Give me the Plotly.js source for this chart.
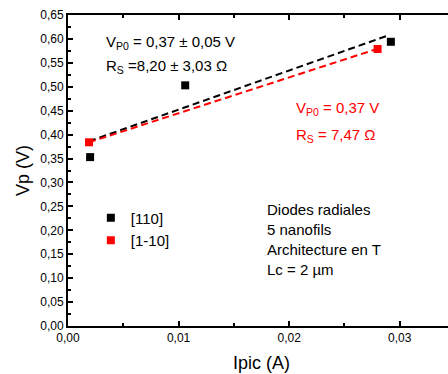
<!DOCTYPE html>
<html><head><meta charset="utf-8">
<script src="https://cdn.plot.ly/plotly-3.0.1.min.js"></script>
<style>html,body{margin:0;padding:0;overflow:hidden;background:#fff}</style>
</head><body><div id="chart"></div>
<script>
// Data
const black110X = [0.0020, 0.0106, 0.0292];
const black110Y = [0.353, 0.503, 0.594];
const red110X = [0.0019, 0.0280];
const red110Y = [0.384, 0.579];
// Fit lines (end points)
const fitBlackX = [0.0019, 0.0288];
const fitBlackY = [0.386, 0.606];
const fitRedX = [0.0019, 0.0278];
const fitRedY = [0.384, 0.578];
const seriesNames = ['[110]', '[1-10]'];

const font = 'Liberation Sans, Arial, sans-serif';
const traces = [
  {x: fitBlackX, y: fitBlackY, mode: 'lines', line: {color: '#000', width: 2, dash: '7px,4px'}, showlegend: false, hoverinfo: 'skip'},
  {x: fitRedX, y: fitRedY, mode: 'lines', line: {color: '#ff0000', width: 2, dash: '7px,4px'}, showlegend: false, hoverinfo: 'skip'},
  {x: black110X, y: black110Y, mode: 'markers', name: seriesNames[0], marker: {symbol: 'square', size: 8, color: '#000'}},
  {x: red110X, y: red110Y, mode: 'markers', name: seriesNames[1], marker: {symbol: 'square', size: 8, color: '#ff0000'}}
];

function ann(text, x, y, color, size) {
  return {text: text, xref: 'paper', yref: 'paper', x: x, y: y, xanchor: 'left', yanchor: 'middle',
    showarrow: false, align: 'left', font: {family: font, size: size, color: color}};
}

const layout = {
  width: 470, height: 374,
  margin: {l: 68, r: 15, t: 15, b: 48},
  separators: ', ',
  paper_bgcolor: '#fff', plot_bgcolor: '#fff',
  font: {family: font, color: '#000'},
  xaxis: {
    range: [0, 0.035], tickvals: [0, 0.01, 0.02, 0.03], tickformat: '.2f',
    ticks: 'inside', ticklen: 5, tickwidth: 2, tickcolor: '#000',
    showline: true, linewidth: 2, linecolor: '#000', mirror: 'ticks',
    showgrid: false, zeroline: false,
    tickfont: {size: 12, family: font},
    minor: {dtick: 0.005, ticks: 'inside', ticklen: 3, tickwidth: 2, tickcolor: '#000', showgrid: false},
    title: {text: 'Ipic (A)', font: {size: 18, family: font}, standoff: 12}
  },
  yaxis: {
    range: [0, 0.65], dtick: 0.05, tick0: 0, tickformat: '.2f',
    ticks: 'inside', ticklen: 5, tickwidth: 2, tickcolor: '#000',
    showline: true, linewidth: 2, linecolor: '#000', mirror: 'ticks',
    showgrid: false, zeroline: false,
    tickfont: {size: 12, family: font},
    minor: {dtick: 0.025, ticks: 'inside', ticklen: 3, tickwidth: 2, tickcolor: '#000', showgrid: false},
    title: {text: 'Vp (V)', font: {size: 18, family: font}, standoff: 6}
  },
  showlegend: true,
  legend: {x: 0.059, y: 0.400, xanchor: 'left', yanchor: 'top', bgcolor: 'rgba(0,0,0,0)',
    font: {size: 15, family: font}},
  annotations: [
    ann('V<sub>P0</sub> = 0,37 ± 0,05 V', 0.093, 0.913, '#000', 15),
    ann('R<sub>S</sub> =8,20 ± 3,03 Ω', 0.093, 0.836, '#000', 15),
    ann('V<sub>P0</sub> = 0,37 V', 0.585, 0.698, '#ff0000', 15),
    ann('R<sub>S</sub> = 7,47 Ω', 0.585, 0.614, '#ff0000', 15),
    ann('Diodes radiales', 0.509, 0.373, '#000', 15),
    ann('5 nanofils', 0.509, 0.309, '#000', 15),
    ann('Architecture en T', 0.509, 0.245, '#000', 15),
    ann('Lc = 2 µm', 0.509, 0.183, '#000', 15)
  ]
};
Plotly.newPlot('chart', traces, layout, {displayModeBar: false, staticPlot: true});
</script></body></html>
